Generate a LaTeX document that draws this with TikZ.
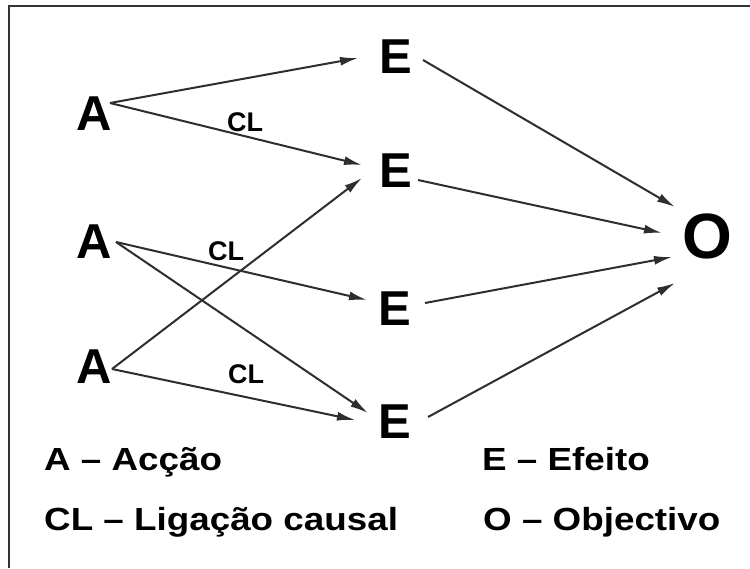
\documentclass[tikz,border=0pt]{standalone}
\usepackage{fontspec}
\setmainfont{Liberation Sans}
\newfontfamily\legfont[FakeStretch=1.15]{Liberation Sans}
\usetikzlibrary{arrows.meta,calc}
\begin{document}
\begin{tikzpicture}[x=1pt,y=-1pt,
  big/.style={inner sep=0pt, font=\fontsize{49}{49}\selectfont\bfseries},
  bigo/.style={inner sep=0pt, font=\fontsize{64}{64}\selectfont\bfseries},
  cl/.style={inner sep=0pt, font=\fontsize{27}{27}\selectfont\bfseries},
  leg/.style={inner sep=0pt, anchor=base west, font=\legfont\fontsize{32}{32}\selectfont\bfseries},
  conn/.style={draw=black!82, line width=2pt, -{Latex[length=18pt,width=9pt]}},
  frameline/.style={draw=black!80, line width=2pt}]
\useasboundingbox (0,0) rectangle (750,568);
\fill[white] (0,0) rectangle (750,568);
\draw[frameline] (9,568) -- (9,6) -- (750,6);

\node[big] (A1) at (94,114) {A};
\node[big] (A2) at (94,242) {A};
\node[big] (A3) at (94,367) {A};
\node[big] (E1) at (396,57) {E};
\node[big] (E2) at (396,171) {E};
\node[big] (E3) at (395,309) {E};
\node[big] (E4) at (395,422) {E};
\node[bigo] (O) at (707,236) {O};

\node[cl] (CL1) at (245,122) {CL};
\node[cl] (CL2) at (226,251) {CL};
\node[cl] (CL3) at (246,374) {CL};

\draw[conn] ($(A1)+(16,-11)$) -- ($(E1)+(-38,1)$);
\draw[conn] ($(A1)+(16,-11)$) -- ($(E2)+(-34,-6)$);
\draw[conn] ($(A2)+(22,0)$) -- ($(E3)+(-28,-9)$);
\draw[conn] ($(A2)+(22,0)$) -- ($(E4)+(-27,-9)$);
\draw[conn] ($(A3)+(18,2)$) -- ($(E2)+(-34,7)$);
\draw[conn] ($(A3)+(18,2)$) -- ($(E4)+(-40,-2)$);

\draw[conn] ($(E1)+(27,3)$) -- ($(O)+(-32,-29)$);
\draw[conn] ($(E2)+(22,9)$) -- ($(O)+(-45,-3)$);
\draw[conn] ($(E3)+(30,-6)$) -- ($(O)+(-35,21)$);
\draw[conn] ($(E4)+(33,-5)$) -- ($(O)+(-32,47)$);

\node[leg] (LA) at (44,470) {A – Acção};
\node[leg] (LE) at (482,470) {E – Efeito};
\node[leg] (LCL) at (44,530) {CL – Ligação causal};
\node[leg] (LO) at (483,530) {O – Objectivo};
\end{tikzpicture}
\end{document}
